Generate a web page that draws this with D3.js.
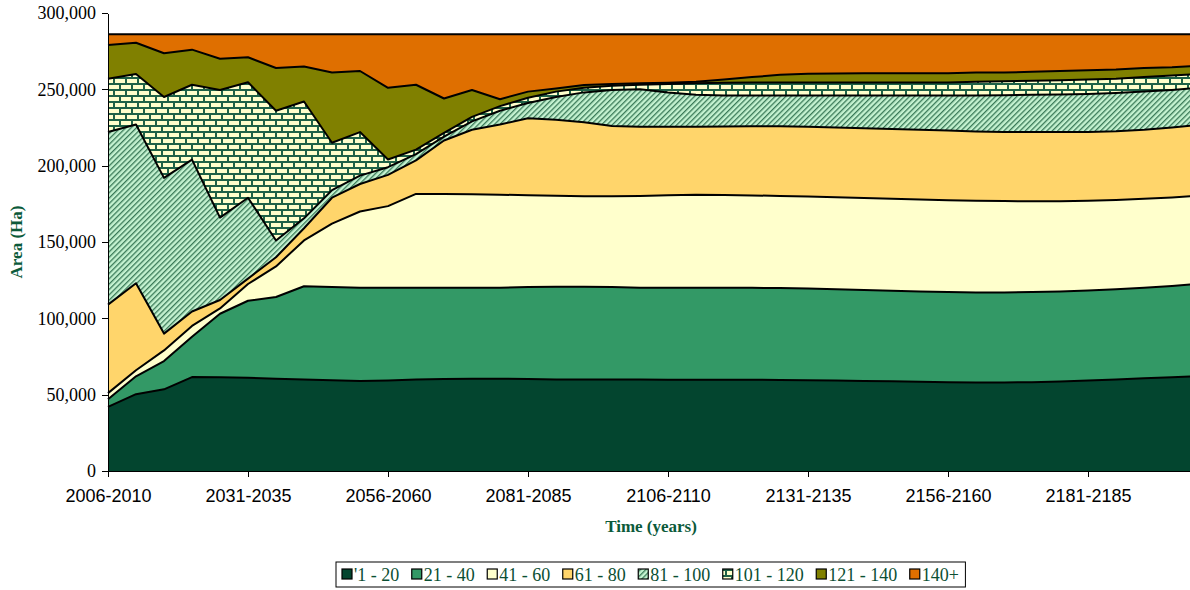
<!DOCTYPE html>
<head>
<meta charset="UTF-8">
<title>Area by age class</title>
<style>
body { margin: 0; background: #fff; }
.axis path, .axis line { stroke: #000; shape-rendering: crispEdges; }
.y.axis text { font-family: "Liberation Serif", "Times New Roman", serif; font-size: 18px; fill: #000; }
.x.axis text { font-family: "Liberation Sans", Arial, sans-serif; font-size: 18px; fill: #000; }
.layer-line { fill: none; stroke: #000; stroke-width: 2px; stroke-linejoin: round; }
.axis-title { font-family: "Liberation Serif", "Times New Roman", serif; font-weight: bold; font-size: 17px; fill: #0b5a3a; }
.legend text { font-family: "Liberation Serif", "Times New Roman", serif; font-size: 18px; fill: #0b4f33; }
</style>
<body>
<script src="https://cdn.jsdelivr.net/npm/d3@7"></script>
<script>

// five year periods along the bottom
var periods = ["2006-2010", "2011-2015", "2016-2020", "2021-2025", "2026-2030",
  "2031-2035", "2036-2040", "2041-2045", "2046-2050", "2051-2055",
  "2056-2060", "2061-2065", "2066-2070", "2071-2075", "2076-2080",
  "2081-2085", "2086-2090", "2091-2095", "2096-2100", "2101-2105",
  "2106-2110", "2111-2115", "2116-2120", "2121-2125", "2126-2130",
  "2131-2135", "2136-2140", "2141-2145", "2146-2150", "2151-2155",
  "2156-2160", "2161-2165", "2166-2170", "2171-2175", "2176-2180",
  "2181-2185", "2186-2190", "2191-2195", "2196-2200", "2201-2205"];

var xTickLabels = ["2006-2010", "2031-2035", "2056-2060", "2081-2085",
  "2106-2110", "2131-2135", "2156-2160", "2181-2185"];

var yTicks = [0, 50000, 100000, 150000, 200000, 250000, 300000];

var ageClasses = ["'1 - 20", "21 - 40", "41 - 60", "61 - 80", "81 - 100", "101 - 120", "121 - 140", "140+"];

// area (Ha) of each age class per period
var area1to20 = [42000, 50300, 53500, 61500, 61400, 61000, 60500, 60000, 59500, 59000,
  59300, 60000, 60300, 60500, 60500, 60300, 60000, 60000, 60000, 60000,
  59800, 59800, 59800, 59800, 59600, 59500, 59300, 59000, 58800, 58500,
  58200, 58000, 58000, 58200, 58600, 59200, 60000, 60700, 61400, 62300];
var area21to40 = [5000, 11700, 18500, 26500, 41600, 50500, 53500, 61000, 61000, 61000,
  60700, 60000, 59700, 59500, 59500, 60200, 60700, 60700, 60500, 60000,
  60200, 60200, 60200, 60200, 60200, 60000, 59700, 59500, 59200, 59000,
  59000, 59000, 59000, 59000, 59000, 59000, 59000, 59300, 59800, 60500];
var area41to60 = [4000, 4000, 7000, 7000, 3500, 11000, 20000, 30000, 41500, 50000,
  53500, 61500, 61500, 61200, 61000, 60100, 59600, 59300, 59500, 60200,
  60600, 61000, 60800, 60500, 60400, 60300, 60300, 60300, 60300, 60300,
  60100, 60000, 59800, 59500, 59100, 58800, 58500, 58300, 58000, 57500];
var area61to80 = [58000, 57000, 11000, 9500, 5500, 3500, 6000, 8000, 17000, 18000,
  20500, 22000, 35000, 42300, 46000, 50400, 49700, 48500, 46000, 45300,
  44900, 44500, 44900, 45300, 45600, 45700, 45700, 45700, 45700, 45700,
  45700, 45300, 45200, 45300, 45300, 45000, 45000, 45200, 45800, 46500];
var area81to100 = [113000, 104000, 102000, 99500, 54000, 53000, 11000, 6500, 5000, 5500,
  5000, 4000, 2500, 5500, 9000, 10000, 15000, 19500, 23500, 24500,
  22500, 21000, 20300, 20200, 20200, 20500, 21000, 21500, 22000, 22500,
  23000, 23700, 24200, 24400, 24600, 25000, 25100, 25000, 24600, 24200];
var area101to120 = [35000, 33000, 53000, 49000, 83600, 75600, 85000, 76500, 31000, 28500,
  5000, 3000, 2500, 3000, 3000, 3500, 3500, 3000, 2800, 3000,
  5500, 7500, 8300, 8500, 8500, 8500, 8500, 8500, 8500, 8500,
  8500, 9000, 9100, 9200, 9400, 9500, 9400, 9500, 9400, 9000];
var area121to140 = [22000, 20500, 28600, 23000, 20400, 16400, 28000, 23000, 46000, 40000,
  47000, 42500, 22500, 17600, 4500, 4000, 2100, 1800, 1200, 1000,
  800, 1000, 2200, 3500, 5000, 5700, 5900, 6000, 6000, 6000,
  6000, 6000, 5700, 5900, 6000, 6000, 6000, 6000, 5500, 5500];
var area140plus = [7000, 5500, 12400, 10000, 16000, 15000, 22000, 21000, 25000, 24000,
  35000, 33000, 42000, 36400, 42500, 37500, 35400, 33200, 32500, 32000,
  31700, 31000, 29500, 28000, 26500, 25800, 25600, 25500, 25500, 25500,
  25500, 25000, 25000, 24500, 24000, 23500, 23000, 22000, 21500, 20500];

var seriesValues = [area1to20, area21to40, area41to60, area61to80,
  area81to100, area101to120, area121to140, area140plus];

var fills = ["#03452f", "#339966", "#ffffcc", "#ffd56b", "url(#hatch)", "url(#brick)", "#808000", "#df6f00"];

// build rows for d3.stack
var table = periods.map(function(p, i) {
  var row = {period: p};
  ageClasses.forEach(function(k, j) { row[k] = seriesValues[j][i]; });
  return row;
});

var layers = d3.stack().keys(ageClasses)(table);

var width = 1190, height = 590;

var svg = d3.select("body").append("svg")
    .attr("width", width)
    .attr("height", height);

// fill patterns for the two hatched classes
var defs = svg.append("defs");

var hatch = defs.append("pattern")
    .attr("id", "hatch")
    .attr("patternUnits", "userSpaceOnUse")
    .attr("width", 3.8).attr("height", 3.8)
    .attr("patternTransform", "rotate(45)");
hatch.append("rect").attr("width", 3.8).attr("height", 3.8).attr("fill", "#c4f2d0");
hatch.append("rect").attr("width", 1.3).attr("height", 3.8).attr("fill", "#3a7a58");

var brick = defs.append("pattern")
    .attr("id", "brick")
    .attr("patternUnits", "userSpaceOnUse")
    .attr("width", 12).attr("height", 12);
brick.append("rect").attr("width", 12).attr("height", 12).attr("fill", "#1f6247");
[[1, 1], [-5, 7], [7, 7]].forEach(function(b) {
  brick.append("rect")
      .attr("x", b[0]).attr("y", b[1])
      .attr("width", 10).attr("height", 4)
      .attr("fill", "#ffffcc");
});

// scales
var x = d3.scalePoint().domain(periods).range([108, 1200]);
var y = d3.scaleLinear().domain([0, 300000]).range([471, 13]);

var area = d3.area()
    .x(function(d) { return x(d.data.period); })
    .y0(function(d) { return y(d[0]); })
    .y1(function(d) { return y(d[1]); });

var topLine = d3.line()
    .x(function(d) { return x(d.data.period); })
    .y(function(d) { return y(d[1]); });

svg.selectAll("path.layer")
    .data(layers)
  .enter().append("path")
    .attr("class", "layer")
    .attr("fill", function(d, i) { return fills[i]; })
    .attr("d", area);

svg.selectAll("path.layer-line")
    .data(layers)
  .enter().append("path")
    .attr("class", "layer-line")
    .attr("d", topLine);

// axes
svg.append("g")
    .attr("class", "y axis")
    .attr("transform", "translate(108,0)")
    .call(d3.axisLeft(y).tickValues(yTicks).tickFormat(d3.format(",")).tickSize(6).tickPadding(6).tickSizeOuter(0));

svg.append("g")
    .attr("class", "x axis")
    .attr("transform", "translate(0,471)")
    .call(d3.axisBottom(x).tickValues(xTickLabels).tickSize(6).tickPadding(12).tickSizeOuter(0));

svg.append("text")
    .attr("class", "axis-title")
    .attr("text-anchor", "middle")
    .attr("transform", "translate(22,242) rotate(-90)")
    .text("Area (Ha)");

svg.append("text")
    .attr("class", "axis-title")
    .attr("text-anchor", "middle")
    .attr("x", 651).attr("y", 532)
    .text("Time (years)");

// legend
var legend = svg.append("g").attr("class", "legend");
var box = legend.append("rect")
    .attr("y", 562).attr("height", 25)
    .attr("fill", "#fff").attr("stroke", "#000");

var cx = 342;
ageClasses.forEach(function(k, i) {
  legend.append("rect")
      .attr("x", cx).attr("y", 569)
      .attr("width", 10).attr("height", 10)
      .attr("fill", fills[i])
      .attr("stroke", "#000").attr("stroke-width", 1.2);
  var t = legend.append("text")
      .attr("x", cx + 12).attr("y", 581)
      .text(k);
  cx += 12 + t.node().getComputedTextLength() + 12.5;
});
box.attr("x", 336).attr("width", cx - 336 - 6);

</script>
</body>
